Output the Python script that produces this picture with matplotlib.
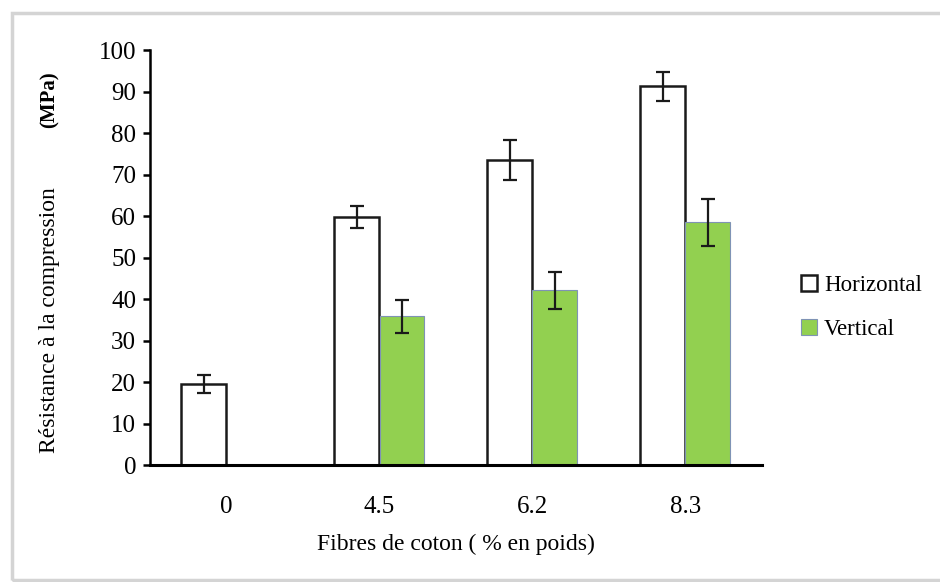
import numpy as np
import matplotlib
matplotlib.use('Agg')
import matplotlib.pyplot as plt
from matplotlib.patches import Rectangle

# values
categories = ['0', '4.5', '6.2', '8.3']
horizontal = [19.5, 59.7, 73.6, 91.3]
horizontal_err = [2.2, 2.6, 4.8, 3.5]
vertical = [np.nan, 35.8, 42.1, 58.5]
vertical_err = [np.nan, 3.9, 4.5, 5.7]

plt.rcParams['font.family'] = ['Liberation Serif', 'DejaVu Serif']

fig = plt.figure(figsize=(9.4, 5.82), dpi=100)
ax = fig.add_axes([0.1596, 0.201, 0.651, 0.713])

# light frame round the picture
fig.patches.append(Rectangle((12 / 940, 2 / 582), 1.0, 567 / 582,
                             transform=fig.transFigure, fill=False,
                             edgecolor='#d4d4d4', linewidth=2.5))

x = np.arange(len(categories))
w = 0.29
ax.bar(x - w / 2 - 0.005, horizontal, w, color='white', edgecolor='#1a1a1a',
       linewidth=1.8, label='Horizontal', zorder=2)
ax.bar(x + w / 2, vertical, w, color='#92D050', edgecolor='#7f93b5',
       linewidth=0.8, label='Vertical', zorder=2)
ax.errorbar(x - w / 2 - 0.005, horizontal, yerr=horizontal_err, fmt='none',
            ecolor='#1a1a1a', elinewidth=1.6, capsize=5, capthick=1.6, zorder=3)
ax.errorbar(x + w / 2, vertical, yerr=vertical_err, fmt='none',
            ecolor='#1a1a1a', elinewidth=1.6, capsize=5, capthick=1.6, zorder=3)

ax.set_xlim(-0.5, 3.5)
ax.set_ylim(0, 100)
ax.set_yticks(np.arange(0, 101, 10))
ax.set_xticks(x)
ax.set_xticklabels(categories)
ax.tick_params(axis='y', labelsize=18, length=5, width=1.8, pad=5)
ax.tick_params(axis='x', labelsize=18, length=0, pad=22)
for s in ['top', 'right']:
    ax.spines[s].set_visible(False)
ax.spines['left'].set_linewidth(1.8)
ax.spines['bottom'].set_linewidth(2.2)

ax.set_xlabel('Fibres de coton ( % en poids)', fontsize=17, labelpad=12)
fig.text(50 / 940, 1 - 320 / 582, 'Résistance à la compression', rotation=90,
         ha='center', va='center', fontsize=17)
fig.text(50 / 940, 1 - 100 / 582, '(MPa)', rotation=90, ha='center',
         va='center', fontsize=15, fontweight='bold')

ax.legend(loc='center left', bbox_to_anchor=(1.03, 0.38), frameon=False,
          fontsize=16.5, handlelength=0.7, handleheight=0.7, handletextpad=0.3,
          labelspacing=1.0)

fig.savefig('out.png', dpi=100)
